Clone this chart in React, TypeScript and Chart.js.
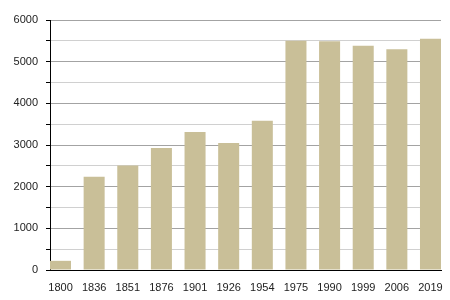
import React, { useEffect, useRef } from "react";
import { Chart, registerables } from "chart.js";

Chart.register(...registerables);

const years = ["1800", "1836", "1851", "1876", "1901", "1926", "1954", "1975", "1990", "1999", "2006", "2019"];
const population = [220, 2240, 2510, 2930, 3315, 3050, 3580, 5500, 5490, 5380, 5300, 5550];
const yMax = 6000;
const yStep = 500;

export default function App() {
  const ref = useRef<HTMLCanvasElement>(null);
  useEffect(() => {
    if (!ref.current) return;
    const barFrac = 0.625;
    const chart = new Chart(ref.current, {
      type: "bar",
      data: {
        datasets: [
          {
            data: population.map((v, i) => ({ x: i, y: v })),
            backgroundColor: "#c9bf98",
            borderWidth: 0,
            categoryPercentage: 1,
            barPercentage: barFrac,
          },
        ],
      },
      options: {
        responsive: false,
        animation: false,
        layout: { padding: { top: 20, right: 9, left: 0, bottom: 0 } },
        plugins: { legend: { display: false }, tooltip: { enabled: false } },
        scales: {
          x: {
            type: "linear",
            offset: false,
            min: -barFrac / 2,
            max: years.length - 1 + barFrac / 2,
            grid: { display: false },
            border: { display: true, color: "#000", width: 1 },
            ticks: {
              stepSize: 1,
              includeBounds: false,
              autoSkip: false,
              maxRotation: 0,
              padding: 3,
              color: "#222",
              font: { family: "Liberation Sans, Arial, sans-serif", size: 11 },
              callback: (v: any) => {
                const n = Number(v);
                return Number.isInteger(n) && years[n] !== undefined ? years[n] : "";
              },
            },
            afterFit: (s: any) => {
              s.height = 30;
            },
          },
          y: {
            min: 0,
            max: yMax,
            border: { display: true, color: "#000", width: 1 },
            grid: {
              color: (c: any) => (c.tick && c.tick.value % 1000 === 0 ? "#a3a3a3" : "#d0d0d0"),
              tickColor: "#000",
              tickLength: 4,
              lineWidth: 1,
            },
            ticks: {
              stepSize: yStep,
              padding: 8,
              color: "#222",
              font: { family: "Liberation Sans, Arial, sans-serif", size: 11 },
              callback: (v: any) => (Number(v) % 1000 === 0 ? String(v) : ""),
            },
            afterFit: (s: any) => {
              s.width = 50;
            },
          },
        },
      },
    });
    return () => chart.destroy();
  }, []);
  return (
    <div style={{ position: "absolute", left: 0, top: 0, width: 450, height: 300, background: "#fff" }}>
      <canvas ref={ref} width={450} height={300} style={{ width: 450, height: 300 }} />
    </div>
  );
}
